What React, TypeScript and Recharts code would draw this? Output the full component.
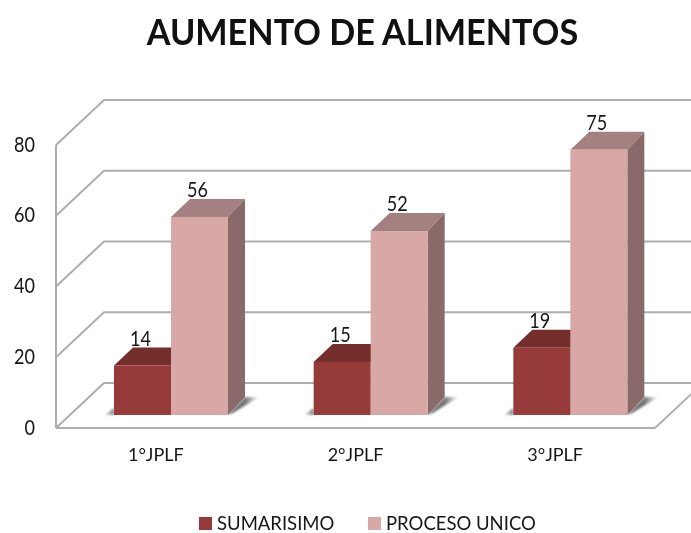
import React from "react";
import { BarChart, Bar, XAxis, YAxis, CartesianGrid, Legend } from "recharts";

const categories = ["1°JPLF", "2°JPLF", "3°JPLF"];
const sumarisimo = [14, 15, 19];
const procesoUnico = [56, 52, 75];
const yTicks = [0, 20, 40, 60, 80];

const data = categories.map((name, i) => ({
  name,
  sumarisimo: sumarisimo[i],
  procesoUnico: procesoUnico[i],
}));

const FONT = "Lato, Carlito, 'Open Sans', sans-serif";
const GRID = "#aeaeae";
const TEXT = "#161616";
// Wall depth and bar placement of the 3D look
const DEPTH_X = 48;
const DEPTH_Y = 45;
const BAR_SHIFT_X = 15;
const BAR_SHIFT_Y = 13;
const BAR_DX = 17;
const BAR_DY = 18;

const RED = { front: "#963b39", top: "#742f2d", side: "#6e3230" };
const PINK = { front: "#d8a8a7", top: "#a58080", side: "#8a6969" };

const gridLine = (props: any) => {
  const { x1, y1, x2, index } = props;
  const back = `M${x1},${y1}L${x1 + DEPTH_X},${y1 - DEPTH_Y}L${x2 + DEPTH_X},${y1 - DEPTH_Y}`;
  const floor = y1 > 400 ? `M${x2},${y1}L${x2 + DEPTH_X},${y1 - DEPTH_Y}` : "";
  return <path key={index} d={back + floor} fill="none" stroke={GRID} strokeWidth={2} />;
};

const bar3d = (c: typeof RED, shadow: "left" | "right") => (props: any) => {
  const x = props.x + BAR_SHIFT_X;
  const y = props.y - BAR_SHIFT_Y;
  const w = props.width;
  const h = props.height;
  const b = y + h;
  return (
    <g>
      {shadow === "right" ? (
        <polygon
          points={`${x + w},${b} ${x + w + BAR_DX},${b - BAR_DY} ${x + w + BAR_DX + 14},${b - BAR_DY} ${x + w + 5},${b - 2}`}
          fill="url(#shadowRight)"
          filter="url(#soft)"
        />
      ) : (
        <polygon points={`${x},${b} ${x},${b - 7} ${x - 10},${b}`} fill="url(#shadowLeft)" filter="url(#soft)" />
      )}
      <polygon points={`${x},${y} ${x + BAR_DX + 2},${y - BAR_DY} ${x + w + BAR_DX},${y - BAR_DY} ${x + w},${y}`} fill={c.top} />
      <polygon points={`${x + w},${y} ${x + w + BAR_DX},${y - BAR_DY} ${x + w + BAR_DX},${b - BAR_DY} ${x + w},${b}`} fill={c.side} />
      <rect x={x} y={y} width={w} height={h} fill={c.front} />
    </g>
  );
};

const barLabel = (props: any) => {
  const { x, y, width, value } = props;
  return (
    <text
      transform={`translate(${x + width / 2 + BAR_SHIFT_X - 2},${y - BAR_SHIFT_Y - 28}) scale(0.86,1)`}
      textAnchor="middle"
      dominantBaseline="central"
      fontFamily={FONT}
      fontSize={21}
      fill={TEXT}
    >
      {value}
    </text>
  );
};

const yTick = (props: any) => {
  const { x, y, payload } = props;
  return (
    <text
      transform={`translate(${x},${y - 1.5}) scale(0.86,1)`}
      textAnchor="end"
      dominantBaseline="central"
      fontFamily={FONT}
      fontSize={21}
      fill={TEXT}
    >
      {payload.value}
    </text>
  );
};

const legendContent = (props: any) => (
  <div style={{ position: "relative", height: 30, fontFamily: FONT, fontSize: 18.5, color: TEXT }}>
    {(props.payload || []).map((p: any, i: number) => (
      <div key={p.value} style={{ position: "absolute", left: i === 0 ? 199 : 368, top: 0, display: "flex", alignItems: "center", height: 24, whiteSpace: "nowrap" }}>
        <span style={{ display: "inline-block", width: 13, height: 13, background: p.color, marginRight: 5 }} />
        <span>{p.value}</span>
      </div>
    ))}
  </div>
);

export default function App() {
  return (
    <div style={{ position: "absolute", left: 0, top: 0, width: 691, height: 533, background: "#fff", overflow: "hidden", filter: "blur(0.6px)" }}>
      <div style={{ position: "absolute", left: 0, width: 725, top: 9, textAlign: "center", fontFamily: FONT, fontWeight: 700, fontSize: 36, color: "#111", whiteSpace: "nowrap", transform: "scaleX(0.95)" }}>
        AUMENTO DE ALIMENTOS
      </div>
      <BarChart
        width={691}
        height={533}
        data={data}
        margin={{ top: 145, right: 36, bottom: 35, left: 0 }}
        barCategoryGap={43}
        barGap={0}
      >
        <defs>
          <linearGradient id="shadowRight" x1="0" y1="0" x2="1" y2="0">
            <stop offset="0" stopColor="#666666" />
            <stop offset="0.55" stopColor="#777777" />
            <stop offset="1" stopColor="#ffffff" />
          </linearGradient>
          <linearGradient id="shadowLeft" x1="1" y1="0" x2="0" y2="0">
            <stop offset="0" stopColor="#777777" />
            <stop offset="1" stopColor="#ffffff" />
          </linearGradient>
          <filter id="soft" x="-30%" y="-30%" width="160%" height="160%">
            <feGaussianBlur stdDeviation="1.2" />
          </filter>
        </defs>
        <CartesianGrid vertical={false} horizontal={gridLine} />
        <XAxis
          dataKey="name"
          height={40}
          tickSize={0}
          tickMargin={20}
          axisLine={{ stroke: GRID, strokeWidth: 2 }}
          tick={{ fontFamily: FONT, fontSize: 18, fill: TEXT }}
        />
        <YAxis
          width={56}
          domain={[0, 80]}
          ticks={yTicks}
          tickSize={0}
          tickMargin={21}
          axisLine={{ stroke: GRID, strokeWidth: 2 }}
          tick={yTick}
        />
        <Legend
          height={30}
          verticalAlign="bottom"
          itemSorter={null}
          wrapperStyle={{ left: 0, top: 511, width: 691 }}
          content={legendContent}
        />
        <Bar dataKey="sumarisimo" name="SUMARISIMO" fill={RED.front} shape={bar3d(RED, "left")} label={barLabel} isAnimationActive={false} />
        <Bar dataKey="procesoUnico" name="PROCESO UNICO" fill={PINK.front} shape={bar3d(PINK, "right")} label={barLabel} isAnimationActive={false} />
      </BarChart>
    </div>
  );
}
